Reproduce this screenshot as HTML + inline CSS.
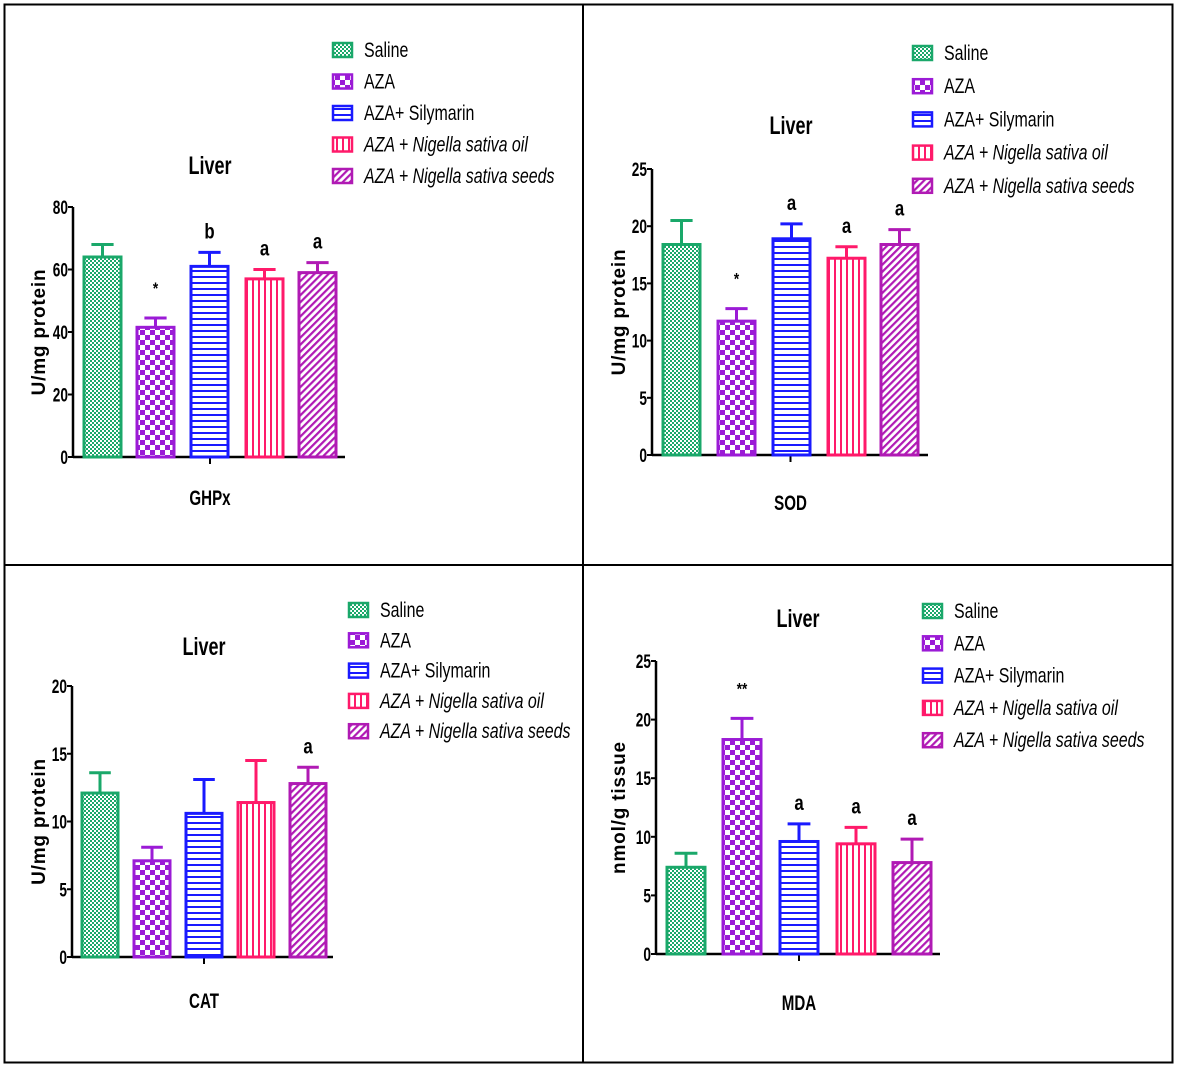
<!DOCTYPE html>
<html><head><meta charset="utf-8"><style>
html,body{margin:0;padding:0;background:#fff}
svg{display:block}
text{font-family:"Liberation Sans",sans-serif}
</style></head><body>
<svg id="fig" width="1177" height="1068" viewBox="0 0 1177 1068" xmlns="http://www.w3.org/2000/svg">
<defs>
<pattern id="p0" width="4" height="4" patternUnits="userSpaceOnUse"><rect width="4" height="4" fill="#1aa86a"/><rect x="0" y="0" width="2" height="2" fill="#fff"/><rect x="2" y="2" width="2" height="2" fill="#fff"/></pattern>
<pattern id="p1" width="10" height="10" patternUnits="userSpaceOnUse"><rect width="10" height="10" fill="#fff"/><rect width="5" height="5" fill="#9b1bd6"/><rect x="5" y="5" width="5" height="5" fill="#9b1bd6"/></pattern>
<pattern id="p2" width="6" height="6" patternUnits="userSpaceOnUse"><rect width="6" height="6" fill="#fff"/><rect width="6" height="2" fill="#1a1aff"/></pattern>
<pattern id="p3" width="6" height="6" patternUnits="userSpaceOnUse"><rect width="6" height="6" fill="#fff"/><rect width="2" height="6" fill="#ff1a6a"/></pattern>
<pattern id="p4" width="5" height="5" patternUnits="userSpaceOnUse" patternTransform="rotate(45)"><rect width="5" height="5" fill="#fff"/><rect width="2.2" height="5" fill="#b01ab4"/></pattern>
</defs>
<rect x="4.5" y="4.5" width="1168" height="1058" fill="none" stroke="#000" stroke-width="2"/>
<line x1="583" y1="4" x2="583" y2="1063" stroke="#000" stroke-width="2"/>
<line x1="4" y1="565" x2="1173" y2="565" stroke="#000" stroke-width="2"/>
</svg>
<script>
const groups = ["Saline","AZA","AZA+ Silymarin","AZA + Nigella sativa oil","AZA + Nigella sativa seeds"];
const ghpxValues = [64, 41.5, 61, 57, 59];
const ghpxErrors = [4, 3, 4.5, 3, 3.2];
const ghpxMarks = ["", "*", "b", "a", "a"];
const ghpxTicks = [0,20,40,60,80];
const sodValues = [18.4, 11.7, 18.9, 17.2, 18.4];
const sodErrors = [2.1, 1.1, 1.3, 1.0, 1.3];
const sodMarks = ["", "*", "a", "a", "a"];
const sodTicks = [0,5,10,15,20,25];
const catValues = [12.1, 7.1, 10.6, 11.4, 12.8];
const catErrors = [1.5, 1.0, 2.5, 3.1, 1.2];
const catMarks = ["", "", "", "", "a"];
const catTicks = [0,5,10,15,20];
const mdaValues = [7.4, 18.3, 9.6, 9.4, 7.8];
const mdaErrors = [1.2, 1.8, 1.5, 1.4, 2.0];
const mdaMarks = ["", "**", "a", "a", "a"];
const mdaTicks = [0,5,10,15,20,25];

const colors = ["#1aa86a","#9b1bd6","#1a1aff","#ff1a6a","#b01ab4"];
const NS = "http://www.w3.org/2000/svg";
const svg = document.getElementById('fig');
function mk(tag, attrs, parent, txt){
  const e = document.createElementNS(NS, tag);
  for (const k in attrs) e.setAttribute(k, attrs[k]);
  if (txt !== undefined) e.textContent = txt;
  (parent||svg).appendChild(e);
  return e;
}
function ctext(parent, x, y, anchor, size, str, bold, sx, italic){
  return mk('text', {x:0, y:0, 'text-anchor':anchor, 'font-size':size, 'font-weight':bold?'bold':'normal', 'font-style':italic?'italic':'normal', transform:'translate('+x+','+y+') scale('+sx+',1)'}, parent, str);
}
function chart(cfg, values, errors, marks, ticks){
  const g = mk('g', {});
  
  
  const max = ticks[ticks.length-1];
  const y = v => cfg.y0 - (cfg.y0 - cfg.yTop) * v / max;
  const ya = mk('line', {x1:cfg.ax, y1:cfg.yTop, x2:cfg.ax, y2:cfg.y0, stroke:'#000','stroke-width':2.5}, g);
  
  
  const xa = mk('line', {x1:cfg.ax, y1:cfg.y0, x2:cfg.axEnd, y2:cfg.y0, stroke:'#000','stroke-width':2.5}, g);
  
  
  const midx = (cfg.barX[0] + cfg.barX[4] + cfg.bw) / 2;
  mk('line', {x1:midx, y1:cfg.y0, x2:midx, y2:cfg.y0+7, stroke:'#000','stroke-width':2}, g);
  ticks.forEach(t => {
    mk('line', {x1:cfg.ax-5, y1:y(t), x2:cfg.ax, y2:y(t), stroke:'#000','stroke-width':2}, g);
    const tl = ctext(g, cfg.ax-5, y(t)+7, 'end', 19, t, true, 0.72);
    
    
  });
  values.forEach((v, i) => {
    const x = cfg.barX[i], c = colors[i];
    const top = y(v), et = y(v + errors[i]), cx = x + cfg.bw/2;
    const el = mk('line', {x1:cx, y1:top, x2:cx, y2:et, stroke:c,'stroke-width':3}, g);
    
    
    mk('line', {x1:cx-cfg.bw*0.3, y1:et, x2:cx+cfg.bw*0.3, y2:et, stroke:c,'stroke-width':3}, g);
    const r = mk('rect', {x:x, y:top, width:cfg.bw, height:cfg.y0-top, fill:'url(#p'+i+')', stroke:c, 'stroke-width':3}, g);
    
    
    if (marks[i]) {
      const big = marks[i].indexOf('*') < 0;
      const m = ctext(g, cx, et - (big ? 14 : 24), 'middle', big ? 21 : 17, marks[i], true, 0.8);
      
      
    }
  });
  const ti = ctext(g, cfg.titleX, cfg.titleY, 'middle', 25, 'Liver', true, 0.72);
  
  
  const xl = ctext(g, midx, cfg.xlY, 'middle', 21, cfg.xlabel, true, 0.72);
  
  
  const yl = mk('text', {x:0, y:0, 'text-anchor':'middle','font-size':19,'font-weight':'bold', style:'letter-spacing:0.8px', transform:'translate('+cfg.ylX+','+((cfg.y0+cfg.yTop)/2)+') rotate(-90)'}, g, cfg.ylabel);
  
  
  groups.forEach((name, i) => {
    const ly = cfg.legY + i*cfg.legStep;
    const le = mk('g', {}, g);
    
    
    mk('rect', {x:cfg.legX, y:ly-7, width:19, height:14, fill:'url(#p'+i+')', stroke:colors[i], 'stroke-width':2.5}, le);
    ctext(le, cfg.legX+31, ly+7, 'start', 21, name, false, 0.76, i >= 3);
  });
}
chart({name:'ghpx', ax:73, axEnd:345, y0:457, yTop:207, barX:[84,137,191,246,299], bw:37, titleX:210, titleY:174, xlY:505, xlabel:'GHPx', ylX:45, ylabel:'U/mg protein', legX:333, legY:50, legStep:31.5}, ghpxValues, ghpxErrors, ghpxMarks, ghpxTicks);
chart({name:'sod', ax:652, axEnd:928, y0:455, yTop:169, barX:[663,718,773,828,881], bw:37, titleX:791, titleY:134, xlY:510, xlabel:'SOD', ylX:625, ylabel:'U/mg protein', legX:913, legY:53, legStep:33.2}, sodValues, sodErrors, sodMarks, sodTicks);
chart({name:'cat', ax:72, axEnd:333, y0:957, yTop:686, barX:[82,134,186,238,290], bw:36, titleX:204, titleY:655, xlY:1008, xlabel:'CAT', ylX:45, ylabel:'U/mg protein', legX:349, legY:610, legStep:30.3}, catValues, catErrors, catMarks, catTicks);
chart({name:'mda', ax:656, axEnd:940, y0:954, yTop:661, barX:[667,723,780,837,893], bw:38, titleX:798, titleY:627, xlY:1010, xlabel:'MDA', ylX:625, ylabel:'nmol/g tissue', legX:923, legY:611, legStep:32.3}, mdaValues, mdaErrors, mdaMarks, mdaTicks);
</script>
</body></html>
